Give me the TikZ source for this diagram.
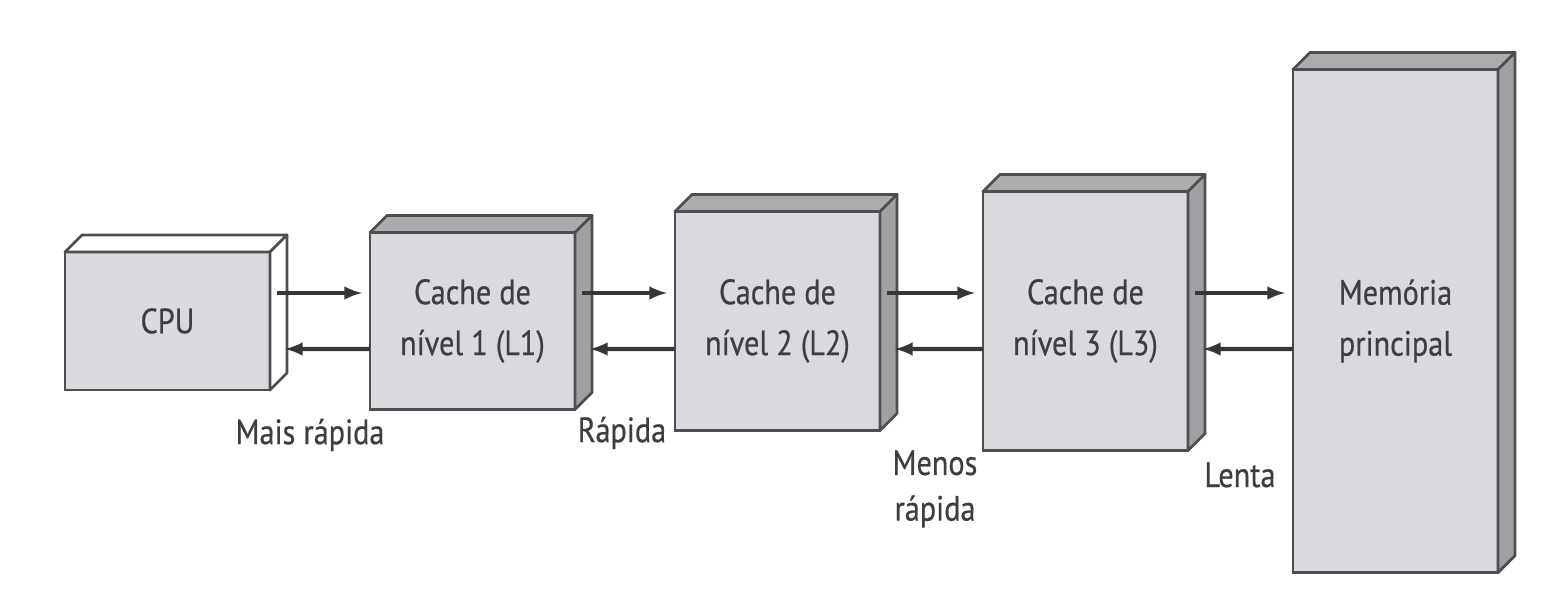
\documentclass[tikz,border=0pt]{standalone}
\usepackage{fontspec}
\setmainfont{PT Sans}[FakeStretch=0.86,FakeBold=0.5]
\usetikzlibrary{positioning}

\definecolor{frente}{RGB}{217,218,221}
\definecolor{topo}{RGB}{172,172,174}
\definecolor{lado}{RGB}{160,160,162}
\definecolor{borda}{RGB}{78,78,80}
\definecolor{texto}{RGB}{62,62,64}

\tikzset{
	bloco/.style={draw=borda, line width=1.6pt, fill=frente, minimum width=4.1cm, inner sep=0pt, outer sep=0pt,
		align=center, text=texto, font=\fontsize{20}{29}\selectfont},
	face/.style={draw=borda, line width=1.6pt, line join=round},
	seta/.style={-latex, line width=2.4pt, draw=borda!70!black},
	rotulo/.style={align=center, text=texto, font=\fontsize{20}{26}\selectfont}
}

% top and side of a box: node, top colour, side colour
\newcommand{\faces}[3]{
	\draw[face, fill=#2] (#1.north west) -- ++(0.34,0.34) -- ([shift={(0.34,0.34)}]#1.north east) -- (#1.north east) -- cycle;
	\draw[face, fill=#3] (#1.north east) -- ++(0.34,0.34) -- ([shift={(0.34,0.34)}]#1.south east) -- (#1.south east) -- cycle;
}

\begin{document}
\begin{tikzpicture}
		\useasboundingbox (0,0) rectangle (31.34,12.04);
		
		\node [bloco, minimum height=2.76cm] (cpu) at (3.35,5.62) {CPU};
		\node [bloco, minimum height=3.54cm, right=2cm of cpu] (l1) {Cache de\\nível 1 (L1)};
		\node [bloco, minimum height=4.38cm, right=2cm of l1] (l2) {Cache de\\nível 2 (L2)};
		\node [bloco, minimum height=5.18cm, right=2.06cm of l2] (l3) {Cache de\\nível 3 (L3)};
		\node [bloco, minimum height=10.06cm, right=2.1cm of l3] (mem) {Memória\\principal};
		
		\faces{cpu}{white}{white}
		\faces{l1}{topo}{lado}
		\faces{l2}{topo}{lado}
		\faces{l3}{topo}{lado}
		\faces{mem}{topo}{lado}
		
		\draw[seta] ([shift={(0.14,0.56)}]cpu.east) -- ([shift={(-0.16,0.56)}]l1.west);
		\draw[seta] ([yshift=-0.56cm]l1.west) -- ([shift={(0.3,-0.56)}]cpu.east);
		\draw[seta] ([shift={(0.14,0.56)}]l1.east) -- ([shift={(-0.16,0.56)}]l2.west);
		\draw[seta] ([yshift=-0.56cm]l2.west) -- ([shift={(0.3,-0.56)}]l1.east);
		\draw[seta] ([shift={(0.14,0.56)}]l2.east) -- ([shift={(-0.16,0.56)}]l3.west);
		\draw[seta] ([yshift=-0.56cm]l3.west) -- ([shift={(0.3,-0.56)}]l2.east);
		\draw[seta] ([shift={(0.14,0.56)}]l3.east) -- ([shift={(-0.16,0.56)}]mem.west);
		\draw[seta] ([yshift=-0.56cm]mem.west) -- ([shift={(0.3,-0.56)}]l3.east);
		
		\node [rotulo] (mais) at (6.2,3.34) {Mais rápida};
		\node [rotulo] (rap) at (12.44,3.38) {Rápida};
		\node [rotulo] (menos) at (18.7,2.26) {Menos\\rápida};
		\node [rotulo] (lenta) at (24.8,2.54) {Lenta};
\end{tikzpicture}
\end{document}
